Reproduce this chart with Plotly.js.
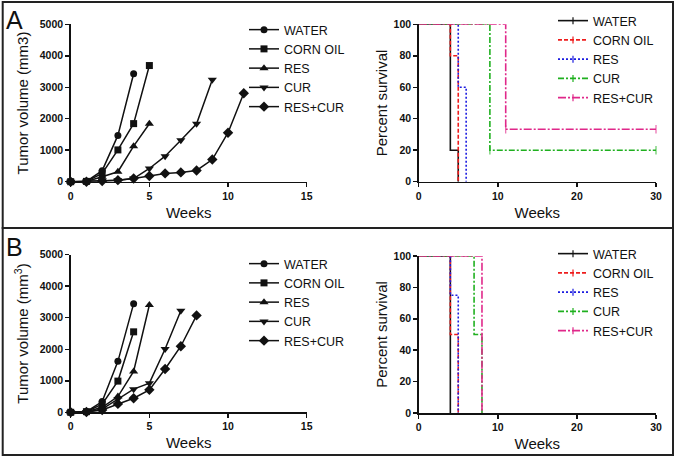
<!DOCTYPE html>
<html><head><meta charset="utf-8">
<script src="https://cdn.plot.ly/plotly-3.0.1.min.js"></script>
<style>html,body{margin:0;padding:0;background:#fff}#chart{width:676px;height:460px}</style>
</head><body><div id="chart"></div>
<script>
// ---------- DATA ----------
var groups = ["WATER", "CORN OIL", "RES", "CUR", "RES+CUR"];

// Panel A tumor volume (mm3) by week
var A_weeks_water = [0,1,2,3,4];
var A_vol_water   = [0,10,350,1470,3430];
var A_weeks_corn  = [0,1,2,3,4,5];
var A_vol_corn    = [0,10,260,1010,1845,3690];
var A_weeks_res   = [0,1,2,3,4,5];
var A_vol_res     = [0,5,160,316,1130,1840];
var A_weeks_cur   = [0,1,2,3,4,5,6,7,8,9];
var A_vol_cur     = [0,5,30,50,100,420,810,1316,1840,3240];
var A_weeks_rc    = [0,1,2,3,4,5,6,7,8,9,10,11];
var A_vol_rc      = [0,0,20,50,100,180,263,295,358,705,1557,2810];

// Panel B tumor volume (mm3) by week
var B_weeks_water = [0,1,2,3,4];
var B_vol_water   = [0,20,340,1617,3447];
var B_weeks_corn  = [0,1,2,3,4];
var B_vol_corn    = [0,20,255,990,2553];
var B_weeks_res   = [0,1,2,3,4,5];
var B_vol_res     = [0,15,160,500,1298,3404];
var B_weeks_cur   = [0,1,2,3,4,5,6,7];
var B_vol_cur     = [0,10,100,420,734,925,2010,3223];
var B_weeks_rc    = [0,1,2,3,4,5,6,7,8];
var B_vol_rc      = [0,10,75,266,447,713,1372,2096,3075];

// Panel A survival (%), step points (time, survival)
var A_surv_t_water = [0,4,5];      var A_surv_water = [100,20,0];
var A_surv_t_corn  = [0,4,5];      var A_surv_corn  = [100,80,0];
var A_surv_t_res   = [0,5,6];      var A_surv_res   = [100,60,0];
var A_surv_t_cur   = [0,9,30];     var A_surv_cur   = [100,20,20];
var A_surv_t_rc    = [0,11,30];    var A_surv_rc    = [100,33.3,33.3];
var A_cens_cur = [0,1,1]; var A_cens_rc = [0,1,1];

// Panel B survival (%)
var B_surv_t_water = [0,4];        var B_surv_water = [100,0];
var B_surv_t_corn  = [0,4,5];      var B_surv_corn  = [100,50,0];
var B_surv_t_res   = [0,4,5];      var B_surv_res   = [100,75,0];
var B_surv_t_cur   = [0,7,8];      var B_surv_cur   = [100,50,0];
var B_surv_t_rc    = [0,8];        var B_surv_rc    = [100,0];

// ---------- STYLE ----------
var FONT = "Liberation Sans, Arial, sans-serif";
var symbols = ["circle","square","triangle-up","triangle-down","diamond"];
var msizes = [7,7,8,8,8];
var survColors = ["#111111","#ee1c1c","#1c1ce0","#1fb01f","#e0288a"];
var survDash = ["solid","4px,2px","2px,2px","6px,2px,2px,2px","8px,2px,2px,2px"];

var traces = [];
function tumor(xs, ys, i, xa, ya, leg) {
  traces.push({x: xs, y: ys, name: groups[i], type: "scatter", mode: "lines+markers",
    xaxis: xa, yaxis: ya, legend: leg, cliponaxis: false,
    line: {color: "#111", width: 1.5},
    marker: {symbol: symbols[i], size: msizes[i], color: "#111"}});
}
function surv(xs, ys, i, xa, ya, leg, cens) {
  var sz = xs.map(function(_, k){ return cens ? (cens[k] ? 6 : 0) : 0; });
  traces.push({x: xs, y: ys, name: groups[i], type: "scatter", mode: cens ? "lines+markers" : "lines",
    xaxis: xa, yaxis: ya, showlegend: false, cliponaxis: false,
    line: {color: survColors[i], width: 1.6, dash: survDash[i], shape: "hv"},
    marker: {symbol: "line-ns-open", size: sz, color: survColors[i], line: {color: survColors[i], width: 1.2}}});
  // legend entry (line with censor tick)
  traces.push({x: [null], y: [null], name: groups[i], type: "scatter", mode: "lines+markers",
    xaxis: xa, yaxis: ya, legend: leg,
    line: {color: survColors[i], width: 1.6, dash: survDash[i]},
    marker: {symbol: "line-ns-open", size: 5, color: survColors[i], line: {color: survColors[i], width: 1.2}}});
}
tumor(A_weeks_water, A_vol_water, 0, "x", "y", "legend");
tumor(A_weeks_corn,  A_vol_corn,  1, "x", "y", "legend");
tumor(A_weeks_res,   A_vol_res,   2, "x", "y", "legend");
tumor(A_weeks_cur,   A_vol_cur,   3, "x", "y", "legend");
tumor(A_weeks_rc,    A_vol_rc,    4, "x", "y", "legend");

surv(A_surv_t_water, A_surv_water, 0, "x2", "y2", "legend2");
surv(A_surv_t_corn,  A_surv_corn,  1, "x2", "y2", "legend2");
surv(A_surv_t_res,   A_surv_res,   2, "x2", "y2", "legend2");
surv(A_surv_t_cur,   A_surv_cur,   3, "x2", "y2", "legend2", A_cens_cur);
surv(A_surv_t_rc,    A_surv_rc,    4, "x2", "y2", "legend2", A_cens_rc);

tumor(B_weeks_water, B_vol_water, 0, "x3", "y3", "legend3");
tumor(B_weeks_corn,  B_vol_corn,  1, "x3", "y3", "legend3");
tumor(B_weeks_res,   B_vol_res,   2, "x3", "y3", "legend3");
tumor(B_weeks_cur,   B_vol_cur,   3, "x3", "y3", "legend3");
tumor(B_weeks_rc,    B_vol_rc,    4, "x3", "y3", "legend3");

surv(B_surv_t_water, B_surv_water, 0, "x4", "y4", "legend4");
surv(B_surv_t_corn,  B_surv_corn,  1, "x4", "y4", "legend4");
surv(B_surv_t_res,   B_surv_res,   2, "x4", "y4", "legend4");
surv(B_surv_t_cur,   B_surv_cur,   3, "x4", "y4", "legend4");
surv(B_surv_t_rc,    B_surv_rc,    4, "x4", "y4", "legend4");

// ---------- LAYOUT ----------
var W = 676, H = 460;
function px(v){ return v / W; }
function py(v){ return 1 - v / H; }
var tickFont = {family: FONT, size: 10.5, color: "#111", weight: "bold"};
var titleFont = {family: FONT, size: 15, color: "#111"};
function xax(dom, anchor, rng, dt) {
  return {domain: dom, anchor: anchor, range: rng, dtick: dt, tick0: 0, showgrid: false, zeroline: false,
    showline: true, linecolor: "#111", linewidth: 1.5, ticks: "outside", ticklen: 4, tickwidth: 1.5, tickcolor: "#111",
    tickfont: tickFont, title: {text: "Weeks", font: titleFont, standoff: 6}, fixedrange: true};
}
function yax(dom, anchor, rng, dt, title, so) {
  return {domain: dom, anchor: anchor, range: rng, dtick: dt, tick0: 0, showgrid: false, zeroline: false,
    showline: true, linecolor: "#111", linewidth: 1.5, ticks: "outside", ticklen: 4, tickwidth: 1.5, tickcolor: "#111",
    tickfont: tickFont, title: {text: title, font: titleFont, standoff: so}, fixedrange: true};
}
function leg(x, y) {
  return {x: px(x), y: py(y), xanchor: "left", yanchor: "top", font: {family: FONT, size: 12.5, color: "#111"},
    bgcolor: "rgba(0,0,0,0)", tracegroupgap: 0, itemclick: false};
}
var layout = {
  width: W, height: H, margin: {l: 0, r: 0, t: 0, b: 0},
  paper_bgcolor: "#fff", plot_bgcolor: "rgba(0,0,0,0)",
  showlegend: true,
  xaxis:  xax([px(70.7), px(306.7)], "y",  [0, 15], 5),
  yaxis:  yax([py(181.7), py(24.3)], "x",  [0, 5000], 1000, "Tumor volume (mm3)", 7),
  xaxis2: xax([px(418.7), px(656)], "y2", [0, 30], 10),
  yaxis2: yax([py(181.7), py(24.3)], "x2", [0, 100], 20, "Percent survival", 2),
  xaxis3: xax([px(70.7), px(306.7)], "y3", [0, 15], 5),
  yaxis3: yax([py(412.3), py(254.7)], "x3", [0, 5000], 1000, "Tumor volume (mm<sup>3</sup>)", 7),
  xaxis4: xax([px(418.7), px(656)], "y4", [0, 30], 10),
  yaxis4: yax([py(413), py(256)], "x4", [0, 100], 20, "Percent survival", 2),
  legend:  leg(244, 15),
  legend2: leg(553, 6),
  legend3: leg(244, 249),
  legend4: leg(553, 239),
  shapes: [
    {type: "rect", xref: "paper", yref: "paper", x0: px(2.7), x1: px(673), y0: py(228), y1: py(2), line: {color: "#222", width: 2}},
    {type: "rect", xref: "paper", yref: "paper", x0: px(2.7), x1: px(673), y0: py(455), y1: py(228), line: {color: "#222", width: 2}}
  ],
  annotations: [
    {text: "A", xref: "paper", yref: "paper", x: px(4), y: py(4), xanchor: "left", yanchor: "top", showarrow: false, font: {family: FONT, size: 25, color: "#111"}},
    {text: "B", xref: "paper", yref: "paper", x: px(4), y: py(231), xanchor: "left", yanchor: "top", showarrow: false, font: {family: FONT, size: 25, color: "#111"}}
  ]
};
Plotly.newPlot("chart", traces, layout, {staticPlot: true, displayModeBar: false});
</script></body></html>
